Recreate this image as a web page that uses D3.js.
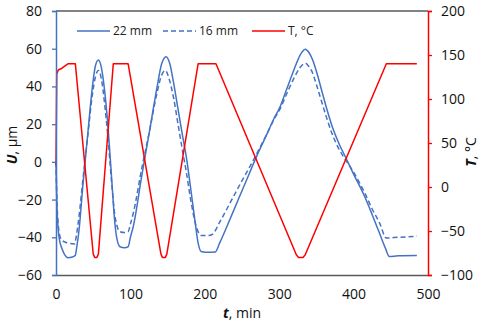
<!DOCTYPE html>
<html>
<head>
<meta charset="utf-8">
<script src="https://cdn.jsdelivr.net/npm/d3@7"></script>
<style>
  body { margin: 0; background: #fff; }
  svg { display: block; font-family: 'Open Sans', 'Noto Sans', sans-serif; }
</style>
</head>
<body>
<svg id="chart" width="488" height="331"></svg>
<script>
// temperature programme (right axis)
var tempTime = [0, 1, 3, 8, 16, 26, 50, 52, 55, 57, 77, 97, 141, 143, 147, 149, 191, 215, 323, 326, 332, 335, 444, 485];
var tempVal  = [25, 128, 133, 135, 140, 140, -76, -80, -80, -76, 140, 140, -76, -80, -80, -76, 140, 140, -77, -80, -80, -77, 140, 140];

// displacement, 22 mm sample
var u22Time = [0, 1, 3, 5, 8, 12, 16, 22, 26, 28, 31, 36, 43, 49, 53, 57, 61, 65, 70, 75, 79, 82, 86, 92, 97, 100, 104, 115, 126, 136, 142, 148, 153, 158, 164, 170, 175, 181, 187, 191, 195, 205, 214,
               220, 230, 245, 260, 272, 285, 293, 301, 310, 320, 328, 335, 340, 345, 350, 357, 364, 371, 380, 391, 400, 415, 425, 435, 443, 448, 460, 485];
var u22Val  = [0, -20, -36, -42, -46, -49.5, -50.8, -50.5, -49.5, -45, -36, -13, 16, 40, 51, 54, 50, 39, 18, -10, -32, -41, -45, -45.5, -45, -40, -34, -8, 17, 40, 52, 55.8, 52, 42, 28, 14, 3, -14, -32, -43, -47.5, -48, -47.8,
               -43, -34, -20, -6, 5, 16, 23, 29, 38.5, 49, 56.5, 59.7, 58, 54, 48, 38, 28, 19, 10, 1, -6.5, -18.5, -28, -38, -46, -50.2, -49.8, -49.7];

// displacement, 16 mm sample
var u16Time = [0, 1, 3, 5, 8, 12, 18, 25, 27, 30, 36, 43, 49, 53, 57, 61, 65, 70, 75, 79, 82, 86, 92, 97, 100, 104, 115, 126, 136, 142, 147, 152, 158, 164, 170, 175, 181, 187, 191, 195, 205, 210,
               220, 235, 250, 262, 272, 285, 293, 301, 310, 320, 328, 335, 340, 345, 350, 357, 364, 371, 380, 391, 400, 415, 425, 435, 444, 460, 485];
var u16Val  = [0, -18, -33, -39, -41.5, -42.5, -43.2, -43.5, -40, -32, -10, 15, 36, 45, 48.5, 44, 32, 12, -12, -28, -34, -37, -37.5, -37, -33, -27, -4, 17, 37, 46, 48.5, 44, 34, 20, 6, -5, -20, -32, -37, -39, -39, -38.5,
               -32, -21, -10, -1.5, 6, 16, 22.5, 28, 36, 44.5, 50, 52.3, 50.5, 47, 41, 32, 23, 15, 7, 0, -5.5, -16.5, -25, -32.5, -40.4, -40, -39.5];

var xTicks = [0, 100, 200, 300, 400, 500];
var uTicks = [-60, -40, -20, 0, 20, 40, 60, 80];
var tTicks = [-100, -50, 0, 50, 100, 150, 200];

var legendLabels = ['22 mm', '16 mm', 'T, °C'];

(function () {
  var BLUE = '#4472c4', RED = '#ff0000', GRID = '#595959';

  var svg = d3.select('#chart');
  var pLeft = 56, pRight = 428, pTop = 11, pBottom = 275;

  var x = d3.scaleLinear().domain([0, 500]).range([pLeft, pRight]);
  var yU = d3.scaleLinear().domain([-60, 80]).range([pBottom, pTop]);
  var yT = d3.scaleLinear().domain([-100, 200]).range([pBottom, pTop]);

  function pairs(ts, vs) {
    return ts.map(function (t, i) { return [t, vs[i]]; });
  }

  // frame line on top
  svg.append('line').attr('x1', pLeft).attr('x2', pRight).attr('y1', pTop).attr('y2', pTop)
    .attr('stroke', GRID).attr('stroke-width', 1.3);

  //------------------------------ series ------------------------------//
  var lineU = d3.line().x(function (d) { return x(d[0]); }).y(function (d) { return yU(d[1]); }).curve(d3.curveMonotoneX);
  var lineT = d3.line().x(function (d) { return x(d[0]); }).y(function (d) { return yT(d[1]); });

  svg.append('path').datum(pairs(u16Time, u16Val)).attr('d', lineU)
    .attr('fill', 'none').attr('stroke', BLUE).attr('stroke-width', 1.5).attr('stroke-dasharray', '5,3');
  svg.append('path').datum(pairs(u22Time, u22Val)).attr('d', lineU)
    .attr('fill', 'none').attr('stroke', BLUE).attr('stroke-width', 1.5);
  svg.append('path').datum(pairs(tempTime, tempVal)).attr('d', lineT)
    .attr('fill', 'none').attr('stroke', RED).attr('stroke-width', 1.5).attr('stroke-linejoin', 'round');

  //------------------------------ axes ------------------------------//
  var gx = svg.append('g').attr('transform', 'translate(0,' + pBottom + ')')
    .call(d3.axisBottom(x).tickValues(xTicks).tickSize(0).tickPadding(14));
  gx.select('.domain').attr('stroke', GRID).attr('stroke-width', 1.3);

  var gl = svg.append('g').attr('transform', 'translate(' + pLeft + ',0)')
    .call(d3.axisLeft(yU).tickValues(uTicks).tickSize(4).tickPadding(10));
  gl.select('.domain').attr('stroke', BLUE).attr('stroke-width', 1.5);
  gl.selectAll('.tick line').attr('stroke', BLUE).attr('stroke-width', 1.3);

  var gr = svg.append('g').attr('transform', 'translate(' + pRight + ',0)')
    .call(d3.axisRight(yT).tickValues(tTicks).tickSize(4).tickPadding(9));
  gr.select('.domain').attr('stroke', RED).attr('stroke-width', 1.5);
  gr.selectAll('.tick line').attr('stroke', RED).attr('stroke-width', 1.3);

  svg.selectAll('.tick text').attr('font-size', 14).attr('fill', '#111')
    .style('font-family', "'Open Sans', sans-serif");

  //------------------------------ axis titles ------------------------------//
  var tx = svg.append('text').attr('x', 242).attr('y', 318).attr('text-anchor', 'middle')
    .attr('font-size', 14).attr('fill', '#111');
  tx.append('tspan').attr('font-weight', 'bold').attr('font-style', 'italic').text('t');
  tx.append('tspan').text(', min');

  var tu = svg.append('text').attr('transform', 'translate(17,145) rotate(-90)').attr('text-anchor', 'middle')
    .attr('font-size', 14).attr('fill', '#111');
  tu.append('tspan').attr('font-weight', 'bold').attr('font-style', 'italic').text('U');
  tu.append('tspan').text(', µm');

  var tt = svg.append('text').attr('transform', 'translate(476,152) rotate(-90)').attr('text-anchor', 'middle')
    .attr('font-size', 14).attr('fill', '#111');
  tt.append('tspan').attr('font-weight', 'bold').attr('font-style', 'italic').text('T');
  tt.append('tspan').text(', °C');

  //------------------------------ legend ------------------------------//
  var legendX = [77, 163, 252];
  var legendStyle = [
    { color: BLUE, dash: null },
    { color: BLUE, dash: '5,3' },
    { color: RED, dash: null }
  ];
  var lg = svg.append('g');
  legendLabels.forEach(function (label, i) {
    lg.append('line').attr('x1', legendX[i]).attr('x2', legendX[i] + 33).attr('y1', 31).attr('y2', 31)
      .attr('stroke', legendStyle[i].color).attr('stroke-width', 1.5)
      .attr('stroke-dasharray', legendStyle[i].dash);
    lg.append('text').attr('x', legendX[i] + 36).attr('y', 31).attr('dy', '0.35em')
      .attr('font-size', 12).attr('fill', '#222').text(label);
  });
})();
</script>
</body>
</html>
